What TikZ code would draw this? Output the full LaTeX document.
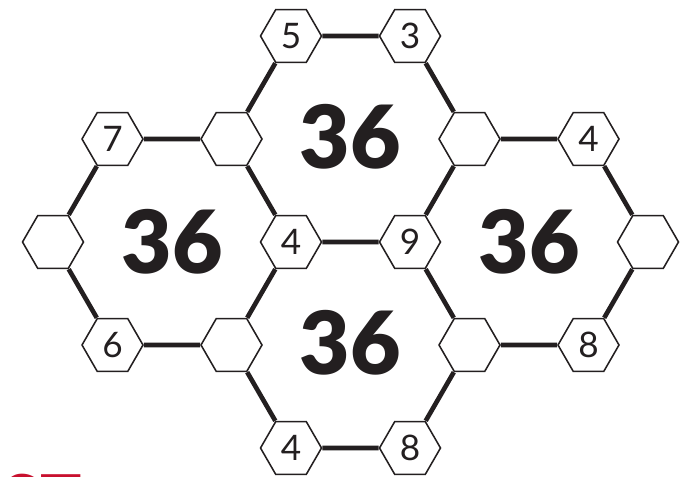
\documentclass[tikz,border=0pt]{standalone}
\usepackage{fontspec}
\setmainfont{Lato}
\newfontfamily\heavyfont{Lato Black}
\usepackage{xcolor}
\usetikzlibrary{shapes.geometric}
\definecolor{ink}{HTML}{231F20}
\definecolor{titlered}{HTML}{C8102E}

\begin{document}
\begin{tikzpicture}[
  every node/.style={text=ink},
  cell/.style={regular polygon, regular polygon sides=6, draw=ink, line width=1.1pt, fill=white, minimum size=1.525cm, inner sep=1pt, font=\fontsize{25}{25}\selectfont},
  total/.style={font=\fontsize{62}{62}\selectfont\heavyfont},
  edge/.style={draw=ink, line width=3.3pt},
]
\useasboundingbox (0,0) rectangle (17,-11.925);

\node[total] (top) at (8.7625,-3.42) {36};
\node[total] (left) at (4.3,-6.05) {36};
\node[total] (right) at (13.225,-6.05) {36};
\node[total] (bottom) at (8.7625,-8.57) {36};

\node[cell] (a5) at (7.275,-0.9) {5};
\node[cell] (a3) at (10.25,-0.9) {3};
\node[cell] (tl) at (5.7875,-3.475) {};
\node[cell] (tr) at (11.7375,-3.475) {};
\node[cell] (c4) at (7.275,-6.05) {4};
\node[cell] (c9) at (10.25,-6.05) {9};
\node[cell] (l7) at (2.8125,-3.475) {7};
\node[cell] (lw) at (1.325,-6.05) {};
\node[cell] (l6) at (2.8125,-8.625) {6};
\node[cell] (bl) at (5.7875,-8.625) {};
\node[cell] (r4) at (14.7125,-3.475) {4};
\node[cell] (re) at (16.2,-6.05) {};
\node[cell] (r8) at (14.7125,-8.625) {8};
\node[cell] (br) at (11.7375,-8.625) {};
\node[cell] (b4) at (7.275,-11.2) {4};
\node[cell] (b8) at (10.25,-11.2) {8};

\draw[edge] (a5) -- (a3) -- (tr) -- (c9) -- (c4) -- (tl) -- (a5);
\draw[edge] (tl) -- (l7) -- (lw) -- (l6) -- (bl) -- (c4);
\draw[edge] (tr) -- (r4) -- (re) -- (r8) -- (br) -- (c9);
\draw[edge] (bl) -- (b4) -- (b8) -- (br);

\node[anchor=base west, text=titlered, font=\fontsize{49}{49}\selectfont\bfseries] (title) at (-0.05,-13.1) {ST};

\end{tikzpicture}
\end{document}
